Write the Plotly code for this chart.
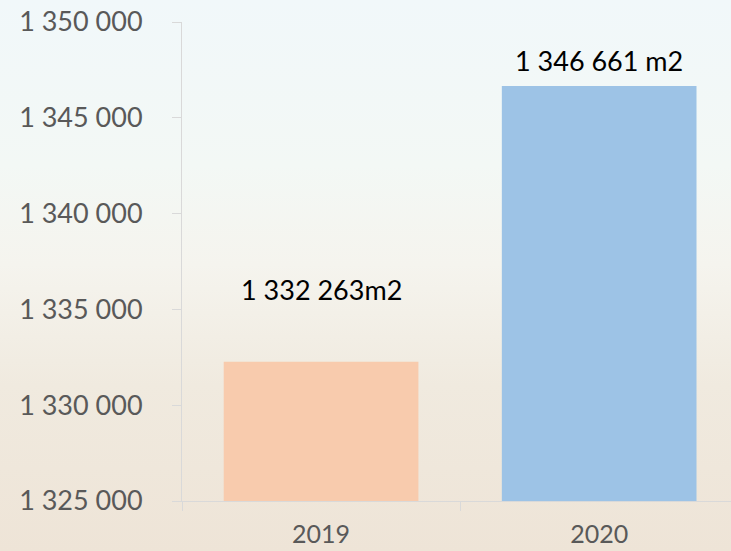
import base64
import plotly.graph_objects as go

# ---- data ----
years = ["2019", "2020"]
area_m2 = [1332263, 1346661]
value_labels = ["1 332 263m2", "1 346 661 m2"]
bar_colors = ["#F8CBAD", "#9DC3E6"]
y_ticks = [1325000, 1330000, 1335000, 1340000, 1345000, 1350000]
label_offsets = [72, 25]

# ---- background gradient (SVG data URI) ----
svg = (
    '<svg xmlns="http://www.w3.org/2000/svg" width="731" height="551" preserveAspectRatio="none">'
    '<defs><linearGradient id="g" x1="0" y1="0" x2="0" y2="1">'
    '<stop offset="0" stop-color="#F1F8FA"/>'
    '<stop offset="0.30" stop-color="#F3F8F5"/>'
    '<stop offset="0.48" stop-color="#F5F4EE"/>'
    '<stop offset="0.70" stop-color="#F0EADF"/>'
    '<stop offset="1" stop-color="#EEE4D7"/>'
    '</linearGradient></defs>'
    '<rect width="731" height="551" fill="url(#g)"/></svg>'
)
bg_src = "data:image/svg+xml;base64," + base64.b64encode(svg.encode()).decode()

fig = go.Figure()
fig.add_trace(go.Bar(
    x=years, y=area_m2,
    marker=dict(color=bar_colors, line=dict(width=0)),
    hoverinfo="skip",
))

for i, (v, lab, off) in enumerate(zip(area_m2, value_labels, label_offsets)):
    fig.add_annotation(
        x=i, y=v, xref="x", yref="y", text=lab, showarrow=False, yshift=off,
        font=dict(family="Lato", size=27, color="#000000"),
        xanchor="center", yanchor="middle",
    )

W, H = 731, 551
L, R, T, B = 182, 0, 22, 50
pw, ph = W - L - R, H - T - B

fig.add_layout_image(dict(
    source=bg_src, xref="paper", yref="paper",
    x=-L / pw, y=1 + T / ph, sizex=W / pw, sizey=H / ph,
    xanchor="left", yanchor="top", sizing="stretch", layer="below",
))

fig.update_layout(
    width=W, height=H,
    margin=dict(l=L, r=R, t=T, b=B, pad=0),
    paper_bgcolor="#F2EEE6",
    plot_bgcolor="rgba(0,0,0,0)",
    bargap=0.3,
    showlegend=False,
    separators=", ",
    font=dict(family="Lato", color="#595959"),
)
fig.update_yaxes(
    range=[1325000, 1350000],
    tickvals=y_ticks,
    tickformat=",d",
    showgrid=False, zeroline=False,
    showline=True, linecolor="#D9D9D9", linewidth=1,
    ticks="outside", ticklen=9, tickcolor="#D9D9D9",
    tickfont=dict(family="Lato", size=27, color="#595959"),
    ticklabelstandoff=24,
)
fig.update_xaxes(
    type="category",
    range=[-0.5, 1.474],
    showgrid=False, zeroline=False,
    showline=True, linecolor="#D9D9D9", linewidth=1,
    ticks="outside", ticklen=9, tickcolor="#D9D9D9",
    tickson="boundaries",
    tickfont=dict(family="Lato", size=25, color="#595959"),
    ticklabelstandoff=11,
)

fig.write_html(
    "out.html",
    config={"displayModeBar": False},
    post_script="document.body.style.margin='0';",
)
